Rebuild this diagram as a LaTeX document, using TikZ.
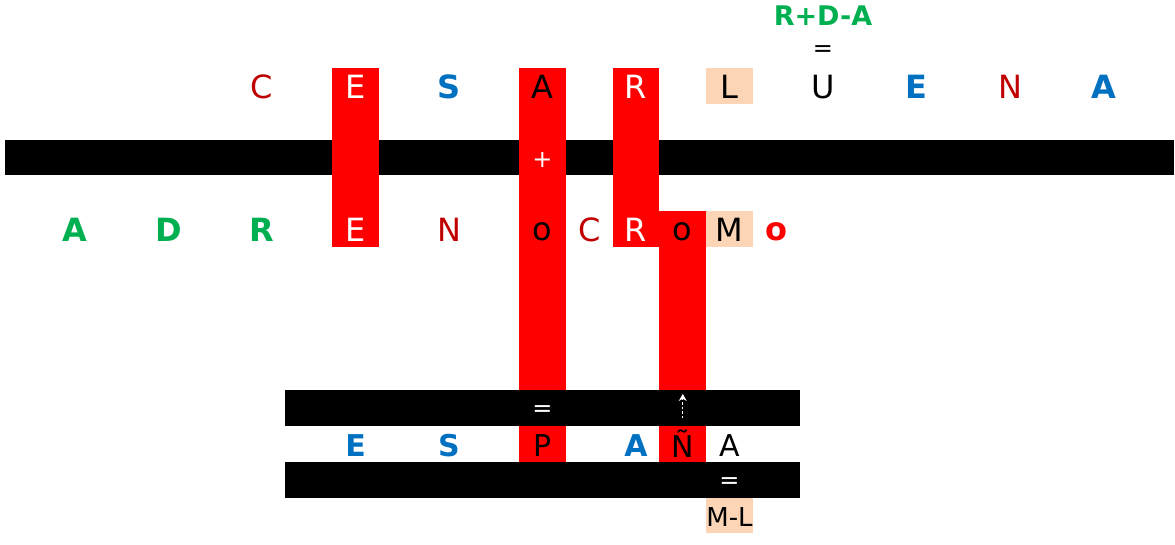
\documentclass[tikz,border=0pt]{standalone}
\usepackage{fontspec}
\setmainfont{DejaVu Sans}
\usetikzlibrary{arrows.meta}
\definecolor{cred}{HTML}{FF0000}
\definecolor{dred}{HTML}{C00000}
\definecolor{cblue}{HTML}{0070C0}
\definecolor{cgreen}{HTML}{00B050}
\definecolor{peach}{HTML}{FBD5B5}
\tikzset{
  lt/.style={inner sep=0pt, font=\fontsize{32}{32}\selectfont},
  lb/.style={inner sep=0pt, font=\fontsize{30}{30}\selectfont},
  bl/.style={inner sep=0pt, font=\fontsize{32}{32}\selectfont\bfseries, text=cblue},
  gr/.style={inner sep=0pt, font=\fontsize{32}{32}\selectfont\bfseries, text=cgreen},
  dr/.style={lt, text=dred},
  wh/.style={lt, text=white},
  pc/.style={fill=peach, minimum width=46.75pt, minimum height=35.8pt, inner sep=0pt},
  sm/.style={inner sep=0pt, font=\fontsize{24}{24}\selectfont},
}
\begin{document}
\begin{tikzpicture}[x=1pt,y=-1pt]
\useasboundingbox (0,0) rectangle (1175,544);
% top bar
\fill[black] (4.9,139.6) rectangle (1173.6,175.4);
% red columns
\fill[cred] (332.1,68) rectangle (378.9,247);
\fill[cred] (519.1,68) rectangle (565.9,461.8);
\fill[cred] (612.6,68) rectangle (659.4,247);
\fill[cred] (659.4,211.2) rectangle (706.1,461.8);
% lower bars
\fill[black] (285.4,390.2) rectangle (799.6,426);
\fill[black] (285.4,461.8) rectangle (799.6,497.6);
% peach cells
\node[pc] (pL) at (729.5,85.9) {};
\node[pc] (pM) at (729.5,229.1) {};
\node[pc] (pML) at (729.5,515.5) {};
% row 0/1
\node[inner sep=0pt, font=\fontsize{27}{27}\selectfont\bfseries, text=cgreen] (rda) at (823,16) {R+D-A};
\node[sm] (eq1) at (823,51) {=};
% top row
\node[dr] (t1) at (262,87) {C};
\node[wh] (t2) at (355.5,87) {E};
\node[bl] (t3) at (449,87) {S};
\node[lt] (t4) at (542.5,87) {A};
\node[wh] (t5) at (636,87) {R};
\node[lt] (t6) at (729.5,87) {L};
\node[lt] (t7) at (823,87) {U};
\node[bl] (t8) at (916.5,87) {E};
\node[dr] (t9) at (1010,87) {N};
\node[bl] (t10) at (1103.5,87) {A};
% plus in bar
\node[sm, text=white] (plus) at (542.5,160) {+};
% middle row
\node[gr] (m1) at (75,230) {A};
\node[gr] (m2) at (168.5,230) {D};
\node[gr] (m3) at (262,230) {R};
\node[wh] (m4) at (355.5,230) {E};
\node[dr] (m5) at (449,230) {N};
\node[lt] (m6) at (542.5,232) {o};
\node[dr] (m7) at (589.25,230) {C};
\node[wh] (m8) at (636,230) {R};
\node[lt] (m9) at (682.75,232) {o};
\node[lt] (m10) at (729.5,230) {M};
\node[inner sep=0pt, font=\fontsize{32}{32}\selectfont\bfseries, text=cred] (m11) at (776.25,232) {o};
% lower bar 1
\node[sm, text=white] (eq2) at (542.5,411) {=};
\coordinate (a1) at (682.75,418);
\coordinate (a2) at (682.75,394);
\draw[white, dash pattern=on 2.5pt off 2pt, line width=1pt, -{Stealth[length=7pt,width=8pt]}] (a1) -- (a2);
% bottom row
\node[bl, font=\fontsize{30}{30}\selectfont\bfseries] (b1) at (355.5,446) {E};
\node[bl, font=\fontsize{30}{30}\selectfont\bfseries] (b2) at (449,446) {S};
\node[lb] (b3) at (542.5,446) {P};
\node[bl, font=\fontsize{30}{30}\selectfont\bfseries] (b4) at (636,446) {A};
\node[lb] (b5) at (682.75,444) {Ñ};
\node[lb] (b6) at (729.5,446) {A};
% lower bar 2
\node[sm, text=white] (eq3) at (729.5,483) {=};
\node[inner sep=0pt, font=\fontsize{26}{26}\selectfont] (ml) at (729.5,517) {M-L};
\end{tikzpicture}
\end{document}
